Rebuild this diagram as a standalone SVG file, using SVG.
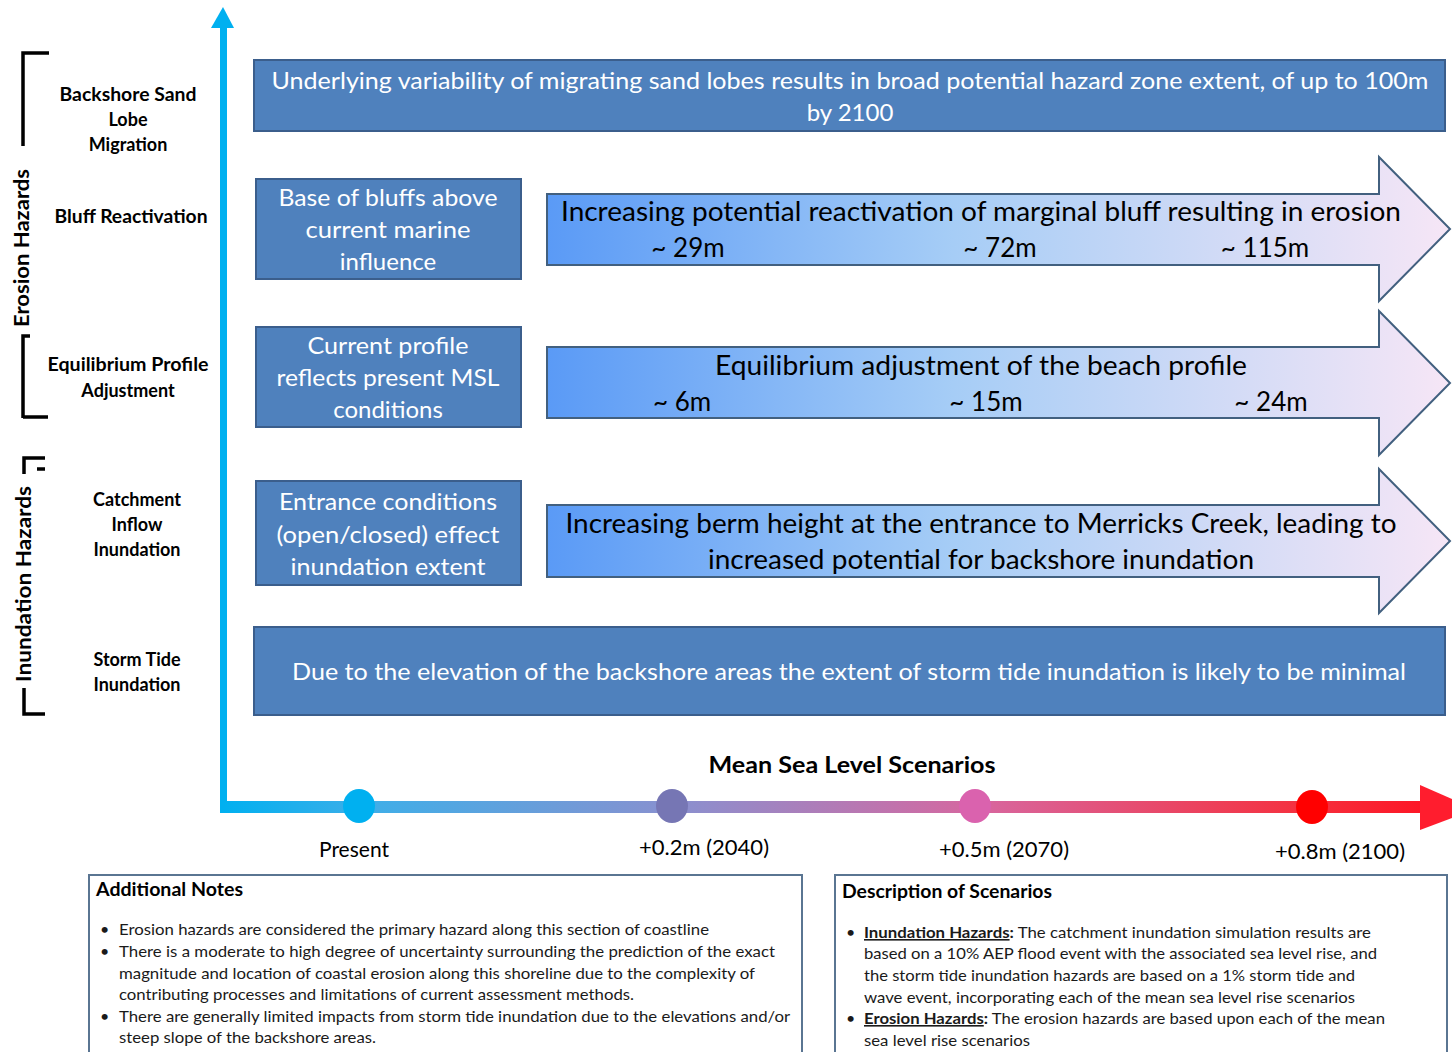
<svg xmlns="http://www.w3.org/2000/svg" width="1452" height="1052" viewBox="0 0 1452 1052">
  <defs>
    <linearGradient id="arrowFill" x1="0" y1="0" x2="1" y2="0">
      <stop offset="0" stop-color="#5A9AF6"/>
      <stop offset="0.45" stop-color="#A6CDF6"/>
      <stop offset="1" stop-color="#F6E6F6"/>
    </linearGradient>
    <linearGradient id="axisFill" gradientUnits="userSpaceOnUse" x1="222" y1="0" x2="1452" y2="0">
      <stop offset="0" stop-color="#00B0F0"/>
      <stop offset="0.12" stop-color="#3FAEE8"/>
      <stop offset="0.37" stop-color="#8A90CF"/>
      <stop offset="0.62" stop-color="#D8669E"/>
      <stop offset="0.88" stop-color="#F5303E"/>
      <stop offset="1" stop-color="#FF1020"/>
    </linearGradient>
    <style>
      .lbl { font-family: Lato, "Liberation Sans", sans-serif; font-weight: bold; font-size: 18px; fill: #000; text-anchor: middle; }
      .grp { font-family: Lato, "Liberation Sans", sans-serif; font-weight: bold; font-size: 20px; fill: #000; text-anchor: middle; }
      .box { fill: #4F81BD; stroke: #3B5E8C; stroke-width: 2; }
      .boxTxt { font-family: Lato, "Liberation Sans", sans-serif; font-size: 24px; fill: #FFFFFF; text-anchor: middle; }
      .arr { fill: url(#arrowFill); stroke: #42607F; stroke-width: 2; }
      .arrTxt { font-family: Lato, "Liberation Sans", sans-serif; font-size: 26px; fill: #000; text-anchor: middle; }
      .axisTxt { font-family: Lato, "Liberation Sans", sans-serif; font-size: 21px; fill: #000; text-anchor: middle; }
      .bracket { fill: none; stroke: #000; stroke-width: 3.5; }
      .note { fill: #FFFFFF; stroke: #5A7592; stroke-width: 2; }
      .noteHead { font-family: Lato, "Liberation Sans", sans-serif; font-weight: bold; font-size: 18px; fill: #000; }
      .noteTxt { font-family: Lato, "Liberation Sans", sans-serif; font-size: 16px; fill: #1A1A1A; }
    </style>
  </defs>

  <rect width="1452" height="1052" fill="#FFFFFF"/>

  <!-- hazard group brackets -->
  <g id="erosion-hazards">
    <path class="bracket" d="M49 53 H23 V146 M23 418 V336 H30 M23 417 H48"/>
    <text class="grp" transform="translate(29 248) rotate(-90)" textLength="158" lengthAdjust="spacingAndGlyphs">Erosion Hazards</text>
  </g>
  <g id="inundation-hazards">
    <path class="bracket" d="M45 458 H24 V474 M37 469 H45 M24 688 V714 H45"/>
    <text class="grp" transform="translate(31 584) rotate(-90)" textLength="196" lengthAdjust="spacingAndGlyphs">Inundation Hazards</text>
  </g>

  <!-- row labels -->
  <g id="label-sand-lobe">
    <text class="lbl" x="128" y="101" textLength="137" lengthAdjust="spacingAndGlyphs">Backshore Sand</text>
    <text class="lbl" x="128" y="126">Lobe</text>
    <text class="lbl" x="128" y="151">Migration</text>
  </g>
  <g id="label-bluff">
    <text class="lbl" x="131" y="223" textLength="153" lengthAdjust="spacingAndGlyphs">Bluff Reactivation</text>
  </g>
  <g id="label-equilibrium">
    <text class="lbl" x="128" y="371" textLength="161" lengthAdjust="spacingAndGlyphs">Equilibrium Profile</text>
    <text class="lbl" x="128" y="397">Adjustment</text>
  </g>
  <g id="label-catchment">
    <text class="lbl" x="137" y="506">Catchment</text>
    <text class="lbl" x="137" y="531">Inflow</text>
    <text class="lbl" x="137" y="556">Inundation</text>
  </g>
  <g id="label-storm-tide">
    <text class="lbl" x="137" y="666">Storm Tide</text>
    <text class="lbl" x="137" y="691">Inundation</text>
  </g>

  <!-- axes -->
  <g id="connectors">
    <rect x="220" y="24" width="7" height="786" fill="#00B0F0"/>
    <polygon points="211,28 223,7 234,28" fill="#00B0F0"/>
    <rect x="220" y="801" width="1205" height="12" fill="url(#axisFill)"/>
    <polygon points="1420,785 1452,799 1452,818 1420,830" fill="#FF1D2E"/>
  </g>

  <!-- scenario markers -->
  <g id="scenario-present">
    <ellipse cx="359" cy="806" rx="16" ry="17" fill="#00B0F0"/>
    <text class="axisTxt" x="354" y="857">Present</text>
  </g>
  <g id="scenario-2040">
    <ellipse cx="672" cy="806" rx="16" ry="17" fill="#7676B4"/>
    <text class="axisTxt" x="704" y="855" textLength="130" lengthAdjust="spacingAndGlyphs">+0.2m (2040)</text>
  </g>
  <g id="scenario-2070">
    <ellipse cx="975" cy="806" rx="16" ry="17" fill="#DA62AE"/>
    <text class="axisTxt" x="1004" y="857" textLength="130" lengthAdjust="spacingAndGlyphs">+0.5m (2070)</text>
  </g>
  <g id="scenario-2100">
    <ellipse cx="1312" cy="807" rx="16" ry="17" fill="#FF0000"/>
    <text class="axisTxt" x="1340" y="859" textLength="130" lengthAdjust="spacingAndGlyphs">+0.8m (2100)</text>
  </g>
  <g id="axis-title">
    <text x="852" y="773" font-family="Lato, 'Liberation Sans', sans-serif" font-weight="bold" font-size="23" text-anchor="middle" textLength="287" lengthAdjust="spacingAndGlyphs">Mean Sea Level Scenarios</text>
  </g>

  <!-- hazard boxes -->
  <g id="box-sand-lobe">
    <rect class="box" x="254" y="60" width="1191" height="71"/>
    <text class="boxTxt" x="850" y="89" textLength="1157" lengthAdjust="spacingAndGlyphs">Underlying variability of migrating sand lobes results in broad potential hazard zone extent, of up to 100m</text>
    <text class="boxTxt" x="850" y="121">by 2100</text>
  </g>
  <g id="box-bluff">
    <rect class="box" x="256" y="179" width="265" height="100"/>
    <text class="boxTxt" x="388" y="206" textLength="219" lengthAdjust="spacingAndGlyphs">Base of bluffs above</text>
    <text class="boxTxt" x="388" y="238" textLength="165" lengthAdjust="spacingAndGlyphs">current marine</text>
    <text class="boxTxt" x="388" y="270">influence</text>
  </g>
  <g id="box-profile">
    <rect class="box" x="256" y="327" width="265" height="100"/>
    <text class="boxTxt" x="388" y="354" textLength="161" lengthAdjust="spacingAndGlyphs">Current profile</text>
    <text class="boxTxt" x="388" y="386" textLength="223" lengthAdjust="spacingAndGlyphs">reflects present MSL</text>
    <text class="boxTxt" x="388" y="418">conditions</text>
  </g>
  <g id="box-entrance">
    <rect class="box" x="256" y="481" width="265" height="104"/>
    <text class="boxTxt" x="388" y="510" textLength="218" lengthAdjust="spacingAndGlyphs">Entrance conditions</text>
    <text class="boxTxt" x="388" y="543" textLength="223" lengthAdjust="spacingAndGlyphs">(open/closed) effect</text>
    <text class="boxTxt" x="388" y="575" textLength="195" lengthAdjust="spacingAndGlyphs">inundation extent</text>
  </g>
  <g id="box-storm-tide">
    <rect class="box" x="254" y="627" width="1191" height="88"/>
    <text class="boxTxt" x="849" y="680" textLength="1114" lengthAdjust="spacingAndGlyphs">Due to the elevation of the backshore areas the extent of storm tide inundation is likely to be minimal</text>
  </g>

  <!-- trend arrows -->
  <g id="arrow-bluff">
    <path class="arr" d="M547 194 H1379 V157 L1450 229 L1379 301 V265 H547 Z"/>
    <text class="arrTxt" x="981" y="221" textLength="840" lengthAdjust="spacingAndGlyphs">Increasing potential reactivation of marginal bluff resulting in erosion</text>
    <text class="arrTxt" x="688" y="257">~ 29m</text>
    <text class="arrTxt" x="1000" y="257">~ 72m</text>
    <text class="arrTxt" x="1265" y="257">~ 115m</text>
  </g>
  <g id="arrow-profile">
    <path class="arr" d="M547 347 H1379 V311 L1450 383 L1379 455 V418 H547 Z"/>
    <text class="arrTxt" x="981" y="375" textLength="532" lengthAdjust="spacingAndGlyphs">Equilibrium adjustment of the beach profile</text>
    <text class="arrTxt" x="682" y="411">~ 6m</text>
    <text class="arrTxt" x="986" y="411">~ 15m</text>
    <text class="arrTxt" x="1271" y="411">~ 24m</text>
  </g>
  <g id="arrow-entrance">
    <path class="arr" d="M547 505 H1379 V469 L1450 541 L1379 613 V577 H547 Z"/>
    <text class="arrTxt" x="981" y="533" textLength="831" lengthAdjust="spacingAndGlyphs">Increasing berm height at the entrance to Merricks Creek, leading to</text>
    <text class="arrTxt" x="981" y="569" textLength="546" lengthAdjust="spacingAndGlyphs">increased potential for backshore inundation</text>
  </g>

  <!-- notes panels -->
  <g id="notes-additional">
    <rect class="note" x="89" y="875" width="713" height="190"/>
    <text class="noteHead" x="96" y="896" textLength="147" lengthAdjust="spacingAndGlyphs">Additional Notes</text>
    <g class="noteTxt">
      <text x="100" y="935">•</text>
      <text x="119" y="935" textLength="590" lengthAdjust="spacingAndGlyphs">Erosion hazards are considered the primary hazard along this section of coastline</text>
      <text x="100" y="957">•</text>
      <text x="119" y="957" textLength="656" lengthAdjust="spacingAndGlyphs">There is a moderate to high degree of uncertainty surrounding the  prediction of the exact</text>
      <text x="119" y="979" textLength="636" lengthAdjust="spacingAndGlyphs">magnitude and location of coastal erosion along this shoreline due to the complexity of</text>
      <text x="119" y="1000" textLength="515" lengthAdjust="spacingAndGlyphs">contributing processes and limitations of current assessment methods.</text>
      <text x="100" y="1022">•</text>
      <text x="119" y="1022" textLength="671" lengthAdjust="spacingAndGlyphs">There are generally limited impacts from storm tide inundation due to the elevations and/or</text>
      <text x="119" y="1043" textLength="257" lengthAdjust="spacingAndGlyphs">steep slope of the backshore areas.</text>
    </g>
  </g>
  <g id="notes-scenarios">
    <rect class="note" x="835" y="875" width="612" height="190"/>
    <text class="noteHead" x="842" y="898" textLength="210" lengthAdjust="spacingAndGlyphs">Description of Scenarios</text>
    <g class="noteTxt">
      <text x="846" y="938">•</text>
      <text x="864" y="938" textLength="507" lengthAdjust="spacingAndGlyphs"><tspan font-weight="bold" text-decoration="underline">Inundation  Hazards</tspan><tspan font-weight="bold">:</tspan> The catchment inundation simulation results are</text>
      <text x="864" y="959" textLength="513" lengthAdjust="spacingAndGlyphs">based on a 10% AEP flood event with the associated sea level rise, and</text>
      <text x="864" y="981" textLength="491" lengthAdjust="spacingAndGlyphs">the storm tide inundation hazards are based on a 1% storm tide and</text>
      <text x="864" y="1003" textLength="491" lengthAdjust="spacingAndGlyphs">wave event, incorporating each of the mean sea level rise scenarios</text>
      <text x="846" y="1024">•</text>
      <text x="864" y="1024" textLength="521" lengthAdjust="spacingAndGlyphs"><tspan font-weight="bold" text-decoration="underline">Erosion Hazards</tspan><tspan font-weight="bold">:</tspan> The erosion hazards are based upon each of the mean</text>
      <text x="864" y="1046" textLength="166" lengthAdjust="spacingAndGlyphs">sea level rise scenarios</text>
    </g>
  </g>
</svg>
